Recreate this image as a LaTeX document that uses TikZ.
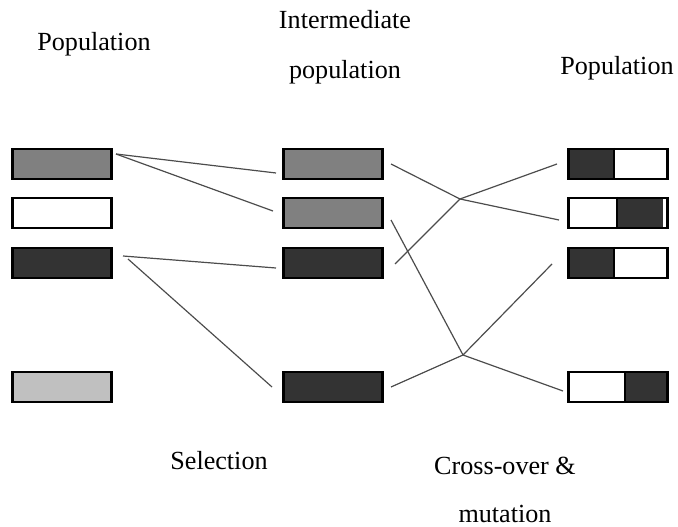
\documentclass[tikz,border=0pt]{standalone}
\usepackage{fontspec}
\setmainfont{Liberation Serif}
\begin{document}
\begin{tikzpicture}[x=0.75pt,y=-0.75pt,
  box/.style={draw=black,line width=2.1pt,inner sep=0pt,minimum width=74pt,minimum height=22.5pt},
  lbl/.style={font=\fontsize{19.6}{22}\selectfont,inner sep=0pt},
  link/.style={draw=black!70,line width=0.9pt},
  pt/.style={inner sep=0pt,minimum size=0pt}]
\useasboundingbox (0,0) rectangle (678,527);
\definecolor{gmid}{HTML}{808080}
\definecolor{gdark}{HTML}{333333}
\definecolor{glight}{HTML}{C0C0C0}
% labels
\node[lbl] (t1) at (94,44) {Population};
\node[lbl] (t2) at (345,20) {Intermediate};
\node[lbl] (t3) at (345,72) {population};
\node[lbl] (t4) at (617,68) {Population};
\node[lbl] (t5) at (219,461) {Selection};
\node[lbl] (t6) at (505,466) {Cross-over \&};
\node[lbl] (t7) at (505,514) {mutation};
% left population
\node[box,fill=gmid] (L1) at (62,164) {};
\node[box,fill=white] (L2) at (62,213) {};
\node[box,fill=gdark] (L3) at (62,263) {};
\node[box,fill=glight] (L4) at (62,387) {};
% intermediate
\node[box,fill=gmid] (M1) at (333,164) {};
\node[box,fill=gmid] (M2) at (333,213) {};
\node[box,fill=gdark] (M3) at (333,263) {};
\node[box,fill=gdark] (M4) at (333,387) {};
% right population (split chromosomes)
\fill[gdark] (567,148) rectangle (614,180);
\fill[gdark] (617,197) rectangle (663,229);
\fill[gdark] (567,247) rectangle (614,279);
\fill[gdark] (625,371) rectangle (668,403);
\draw[line width=1.3pt] (614,148) -- (614,180);
\draw[line width=1.3pt] (617,197) -- (617,229);
\draw[line width=1.3pt] (614,247) -- (614,279);
\draw[line width=1.3pt] (625,371) -- (625,403);
\node[box] (R1) at (618,164) {};
\node[box] (R2) at (618,213) {};
\node[box] (R3) at (618,263) {};
\node[box] (R4) at (618,387) {};
% endpoints
\coordinate (a1) at (116,154);
\coordinate (a2) at (276,173);
\coordinate (a3) at (273,211);
\coordinate (b1) at (123,256);
\coordinate (b2) at (276,268);
\coordinate (b3) at (128,259);
\coordinate (b4) at (272,387);
\coordinate (X1) at (460,199);
\coordinate (X2) at (463,355);
\coordinate (c1) at (391,164);
\coordinate (c2) at (395,264);
\coordinate (c3) at (391,220);
\coordinate (c4) at (391,387);
\coordinate (d1) at (557,164);
\coordinate (d2) at (559,220);
\coordinate (d3) at (552,264);
\coordinate (d4) at (563,391);
% selection links
\draw[link] (a1) -- (a2);
\draw[link] (a1) -- (a3);
\draw[link] (b1) -- (b2);
\draw[link] (b3) -- (b4);
% crossover links
\draw[link] (c1) -- (X1) -- (d2);
\draw[link] (c2) -- (X1) -- (d1);
\draw[link] (c3) -- (X2) -- (d4);
\draw[link] (c4) -- (X2) -- (d3);
\end{tikzpicture}
\end{document}
